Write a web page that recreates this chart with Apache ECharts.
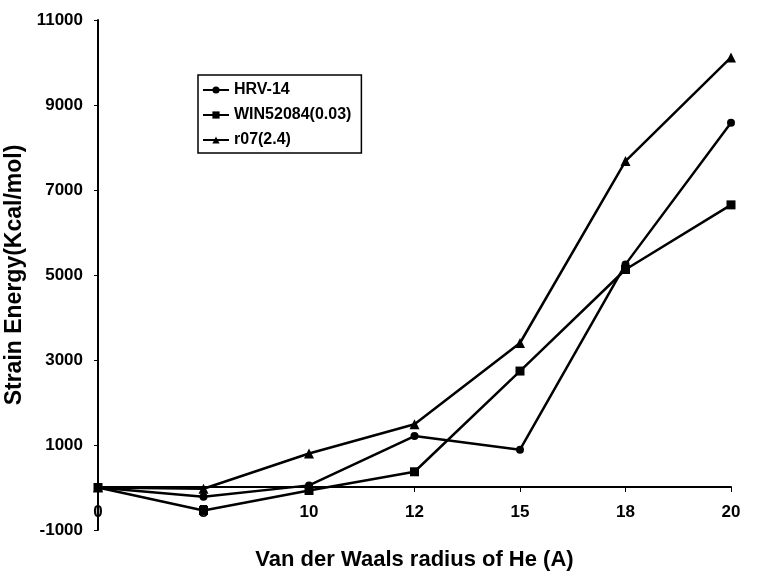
<!DOCTYPE html>
<html><head><meta charset="utf-8">
<script src="https://cdn.jsdelivr.net/npm/echarts@6/dist/echarts.min.js"></script>
<style>html,body{margin:0;padding:0;background:#fff}#c{width:760px;height:583px}</style>
</head><body><div id="c"></div>
<script>
var categories = ['0', '5', '10', '12', '15', '18', '20'];
var hrv14 = [0, -220, 50, 1210, 890, 5250, 8580];
var win52084 = [0, -540, -70, 370, 2740, 5130, 6650];
var r07 = [0, -30, 800, 1490, 3400, 7680, 10120];
var seriesNames = ['HRV-14', 'WIN52084(0.03)', 'r07(2.4)'];
var yTicks = { min: -1000, max: 11000, interval: 2000 };

var FONT = 'Liberation Sans, Arial, sans-serif';
var chart = echarts.init(document.getElementById('c'), null, { renderer: 'canvas' });
function mk(name, data, symbol, size) {
  return {
    name: name, type: 'line', data: data, symbol: symbol, symbolSize: size,
    showSymbol: true, animation: false,
    lineStyle: { color: '#000', width: 2.5 },
    itemStyle: { color: '#000', borderColor: '#000', borderWidth: 0 }
  };
}
chart.setOption({
  animation: false,
  backgroundColor: '#fff',
  grid: { left: 98, right: 29, top: 20, bottom: 53, containLabel: false, outerBoundsMode: 'none' },
  legend: {
    orient: 'vertical', left: 198, top: 75,
    data: seriesNames,
    borderColor: '#000', borderWidth: 1.5, padding: [7, 10, 5, 4],
    itemGap: 9, itemWidth: 26, itemHeight: 9,
    textStyle: { fontFamily: FONT, fontWeight: 'bold', fontSize: 16, color: '#000' }
  },
  xAxis: {
    type: 'category', data: categories, boundaryGap: false,
    offset: -43,
    axisLine: { onZero: false, lineStyle: { color: '#000', width: 2 } },
    axisTick: { show: true, alignWithLabel: true, length: 5, lineStyle: { color: '#000' } },
    axisLabel: { margin: 17, fontFamily: FONT, fontWeight: 'bold', fontSize: 17, color: '#000' },
    name: 'Van der Waals radius of He (A)', nameLocation: 'middle', nameGap: 62,
    nameTextStyle: { fontFamily: FONT, fontWeight: 'bold', fontSize: 22, color: '#000' },
    splitLine: { show: false }
  },
  yAxis: {
    type: 'value', min: yTicks.min, max: yTicks.max, interval: yTicks.interval,
    axisLine: { show: true, lineStyle: { color: '#000', width: 2 } },
    axisTick: { show: true, length: 4, lineStyle: { color: '#000' } },
    axisLabel: { margin: 15, fontFamily: FONT, fontWeight: 'bold', fontSize: 17, color: '#000',
      formatter: function (v) { return String(v); } },
    splitLine: { show: false },
    name: 'Strain Energy(Kcal/mol)', nameLocation: 'middle', nameGap: 55,
    nameTextStyle: { fontFamily: FONT, fontWeight: 'bold', fontSize: 23, color: '#000' }
  },
  series: [
    mk(seriesNames[0], hrv14, 'circle', 8),
    mk(seriesNames[1], win52084, 'rect', 9),
    mk(seriesNames[2], r07, 'triangle', 10)
  ]
});
</script></body></html>
